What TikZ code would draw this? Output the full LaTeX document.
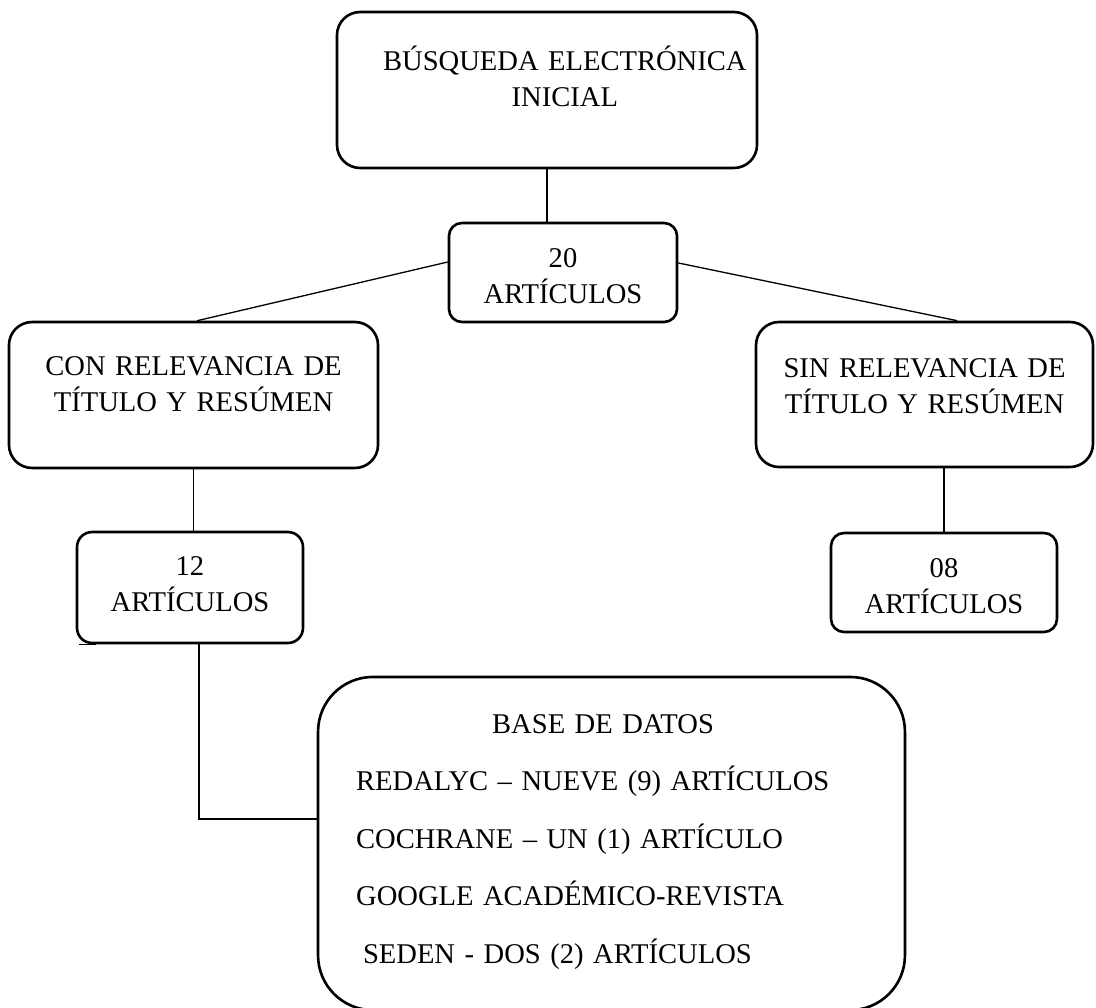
\documentclass[tikz,border=0pt]{standalone}
\usepackage{fontspec}
\setmainfont{Liberation Serif}
\usepackage{tikz}

\tikzset{
caja/.style={draw=black, line width=1.1pt, rounded corners=9.7pt, align=center,
  inner xsep=2pt, inner ysep=2pt, text height=9pt,
  font=\fontsize{12}{15.5}\selectfont},
enlace/.style={draw=black, line width=0.55pt}}

\begin{document}
\begin{tikzpicture}[x=0.42pt, y=-0.42pt]
    \useasboundingbox (0,0) rectangle (1096,1007);

                \node[caja, minimum width=176.4pt, minimum height=65.5pt, text width=170pt, text depth=25.8pt] (busq) at (547,90)
                    {\hspace*{15pt}BÚSQUEDA ELECTRÓNICA\\\hspace*{15pt}INICIAL};
                \node[caja, rounded corners=5.5pt, minimum width=95.8pt, minimum height=41.6pt, text width=90pt, text depth=13.6pt] (a20) at (563,272.5)
                    {20\\ARTÍCULOS};
                \node[caja, minimum width=155pt, minimum height=61.3pt, text width=150pt, text depth=25.8pt] (con) at (193.5,395)
                    {CON RELEVANCIA DE\\TÍTULO Y RESÚMEN};
                \node[caja, minimum width=141.5pt, minimum height=60.9pt, text width=137pt, text depth=23.7pt] (sin) at (924.5,394.5)
                    {SIN RELEVANCIA DE\\TÍTULO Y RESÚMEN};
                \node[caja, rounded corners=6.3pt, minimum width=94.9pt, minimum height=46.6pt, text width=90pt, text depth=19.5pt] (a12) at (190,587.5)
                    {12\\ARTÍCULOS};
                \node[caja, rounded corners=5.5pt, minimum width=94.9pt, minimum height=41.6pt, text width=90pt, text depth=13.6pt] (a08) at (944,582.5)
                    {08\\ARTÍCULOS};
                \node[caja, rounded corners=23pt, align=left, minimum width=246.5pt, minimum height=139.9pt, inner xsep=16pt, text width=214.5pt, text depth=101.8pt, font=\fontsize{12}{24.15}\selectfont] (base) at (611.5,843.5)
                    {\hspace*{\fill}BASE DE DATOS\hspace*{7.1pt}\hspace*{\fill}\mbox{}\\
                     REDALYC – NUEVE (9) ARTÍCULOS\\
                     COCHRANE – UN (1) ARTÍCULO\\
                     GOOGLE ACADÉMICO-REVISTA\\
                     \hspace*{2.9pt}SEDEN - DOS (2) ARTÍCULOS};

                \draw[enlace] (busq.south) -- (busq.south |- a20.north);
                \draw[enlace] ([yshift=4.4pt]a20.west) -- ([xshift=1.5pt]con.north);
                \draw[enlace] ([yshift=4pt]a20.east) -- ([xshift=13.7pt]sin.north);
                \draw[enlace] (con.south) -- (con.south |- a12.north);
                \draw[enlace] (a08.north |- sin.south) -- (a08.north);
                \draw[enlace] ([xshift=3.8pt]a12.south) |- ([yshift=10.3pt]base.west);
                \draw[enlace] ([xshift=1.3pt]a12.south west) -- ([xshift=8.4pt]a12.south west);

            \end{tikzpicture}
\end{document}
